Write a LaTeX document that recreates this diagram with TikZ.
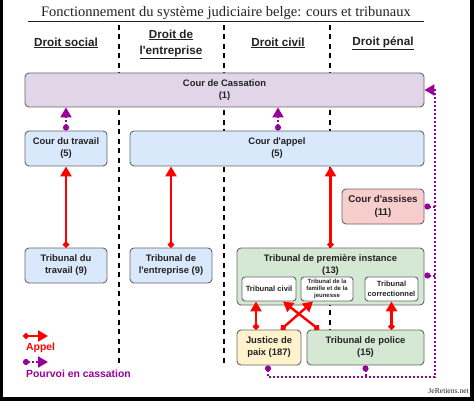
\documentclass[tikz,border=0pt]{standalone}
\usepackage{fontspec}
\setmainfont{Liberation Sans}[Ligatures=TeXOff]
\newfontfamily\titlefont{Liberation Serif}
\usetikzlibrary{arrows.meta,calc}
\definecolor{redA}{HTML}{FF0000}
\definecolor{purp}{HTML}{990099}
\definecolor{bordr}{HTML}{666666}
\definecolor{fpurp}{HTML}{E1D5E7}
\definecolor{fblue}{HTML}{DAE8FC}
\definecolor{fred}{HTML}{F8CECC}
\definecolor{fgreen}{HTML}{D5E8D4}
\definecolor{fyel}{HTML}{FFF2CC}
\definecolor{txt}{HTML}{222222}
\begin{document}
\begin{tikzpicture}[x=1pt,y=-1pt,
 box/.style={draw=bordr, line width=0.9pt, rounded corners=4pt, inner sep=0pt, align=center,
   font=\fontsize{9.4}{12}\selectfont\bfseries, text=txt},
 inbox/.style={box, fill=white, rounded corners=3pt},
 hdr/.style={font=\fontsize{11.7}{16}\selectfont\bfseries, text=txt, align=center, inner sep=0pt},
 appel/.style={draw=redA, line width=2.4pt, {Circle[length=6pt]}-{Triangle[length=10pt,width=11pt]}},
 pourvoi/.style={draw=purp, line width=2pt, dash pattern=on 1.8pt off 2.2pt, {Circle[length=6pt]}-{Triangle[length=10pt,width=11pt]}},
 pline/.style={draw=purp, line width=2pt, dash pattern=on 1.8pt off 2.2pt},
 sep/.style={draw=black, line width=1.8pt, dash pattern=on 5pt off 4.5pt}]
\useasboundingbox (0,0) rectangle (474,401);
\fill[black] (0,0) rectangle (474,401);
\fill[white] (3,0) rectangle (470,397);

% title
\node[font=\titlefont\fontsize{14.5}{16}\selectfont, text=txt, inner sep=0pt] (title) at (226,13) {Fonctionnement du système judiciaire belge: cours et tribunaux};
\coordinate (ulA) at (28,21.5);
\coordinate (ulB) at (424,21.5);
\draw[line width=0.8pt, txt] (ulA) -- (ulB);

% headers
\node[hdr] (h1) at (66,43) {\underline{Droit social}};
\node[hdr] (h2) at (171,44) {\underline{Droit de}\\\underline{l'entreprise}};
\node[hdr] (h3) at (278,43) {\underline{Droit civil}};
\node[hdr] (h4) at (383,43) {\underline{Droit pénal}};

% separators
\coordinate (s1a) at (119,25); \coordinate (s1b) at (119,364);
\coordinate (s2a) at (224,25); \coordinate (s2b) at (224,364);
\coordinate (s3a) at (330,25); \coordinate (s3b) at (330,330);
\draw[sep] (s1a) -- (s1b);
\draw[sep] (s2a) -- (s2b);
\draw[sep] (s3a) -- (s3b);

% boxes
\node[box, fill=fpurp, minimum width=399pt, minimum height=34pt] (cass) at (224.5,90) {Cour de Cassation\\(1)};
\node[box, fill=fblue, minimum width=82pt, minimum height=35pt] (ctrav) at (66,148.5) {Cour du travail\\(5)};
\node[box, fill=fblue, minimum width=294pt, minimum height=35pt] (cappel) at (277,148.5) {Cour d'appel\\(5)};
\node[box, fill=fred, minimum width=82pt, minimum height=35pt, font=\fontsize{9.8}{12.5}\selectfont\bfseries] (cassises) at (383,206.5) {Cour d'assises\\(11)};
\node[box, fill=fblue, minimum width=82pt, minimum height=35pt] (ttrav) at (66,265.5) {Tribunal du\\travail (9)};
\node[box, fill=fblue, minimum width=82pt, minimum height=35pt] (tent) at (171,265.5) {Tribunal de\\l'entreprise (9)};
\node[box, fill=fgreen, minimum width=187pt, minimum height=57pt] (tpi) at (330.5,276.5) {};
\node[font=\fontsize{9.4}{12}\selectfont\bfseries, text=txt, align=center, inner sep=0pt] (tpil) at (330.5,265) {Tribunal de première instance\\(13)};
\node[inbox, minimum width=54pt, minimum height=24pt, font=\fontsize{7.6}{9}\selectfont\bfseries] (tciv) at (269,289) {Tribunal civil};
\node[inbox, minimum width=52pt, minimum height=24pt, font=\fontsize{6}{7.4}\selectfont\bfseries] (tfam) at (327,289) {Tribunal de la\\famille et de la\\jeunesse};
\node[inbox, minimum width=53pt, minimum height=24pt, font=\fontsize{7.5}{9.5}\selectfont\bfseries] (tcorr) at (391.5,289) {Tribunal\\correctionnel};
\node[box, fill=fyel, minimum width=64pt, minimum height=35pt] (jp) at (269,347.5) {Justice de\\paix (187)};
\node[box, fill=fgreen, minimum width=117pt, minimum height=35pt] (tpol) at (365.5,347.5) {Tribunal de police\\(15)};

% appel arrows
\draw[appel] (ttrav.north) -- (ctrav.south);
\draw[appel] (tent.north) -- (tent.north |- cappel.south);
\draw[appel] (tpi.north) -- (tpi.north |- cappel.south);
\draw[appel] ([xshift=-13pt]jp.north) -- ([xshift=-13pt]tciv.south);
\draw[appel] ([xshift=12pt]jp.north) -- ([xshift=-14pt]tfam.south);
\draw[appel] ([xshift=-46.5pt]tpol.north) -- ([xshift=14pt]tciv.south);
\draw[appel] (tcorr.south |- tpol.north) -- (tcorr.south);

% pourvoi
\draw[pourvoi] (ctrav.north) -- (ctrav.north |- cass.south);
\draw[pourvoi] ([xshift=1pt]cappel.north) -- ([xshift=1pt]cappel.north |- cass.south);
\coordinate (pb) at (269,377);
\coordinate (pc) at (435,377);
\coordinate (pd) at (435,90);
\draw[pourvoi] ([xshift=-1pt]jp.south) |- (pc) -- (pd) -- (cass.east);
\draw[pline, {Circle[length=6pt]}-] (tpol.south) -- (tpol.south |- pb);
\draw[pline, {Circle[length=6pt]}-] (cassises.east) -- (cassises.east -| pd);
\draw[pline, {Circle[length=6pt]}-] ([yshift=1pt]tpi.east) -- ([yshift=1pt]tpi.east -| pd);

% legend
\coordinate (la1) at (23,336); \coordinate (la2) at (48,336);
\coordinate (lb1) at (23,362); \coordinate (lb2) at (48,362);
\draw[appel] (la1) -- (la2);
\draw[pourvoi] (lb1) -- (lb2);
\node[anchor=west, inner sep=0pt, text=redA, font=\fontsize{10.4}{12}\selectfont\bfseries] (lga) at (26,348) {Appel};
\node[anchor=west, inner sep=0pt, text=purp, font=\fontsize{10.4}{12}\selectfont\bfseries] (lgb) at (26,374) {Pourvoi en cassation};

% watermark
\node[anchor=east, inner sep=0pt, text=txt, font=\titlefont\fontsize{7.6}{9}\selectfont] (wm) at (469,391) {JeRetiens.net};
\end{tikzpicture}
\end{document}
